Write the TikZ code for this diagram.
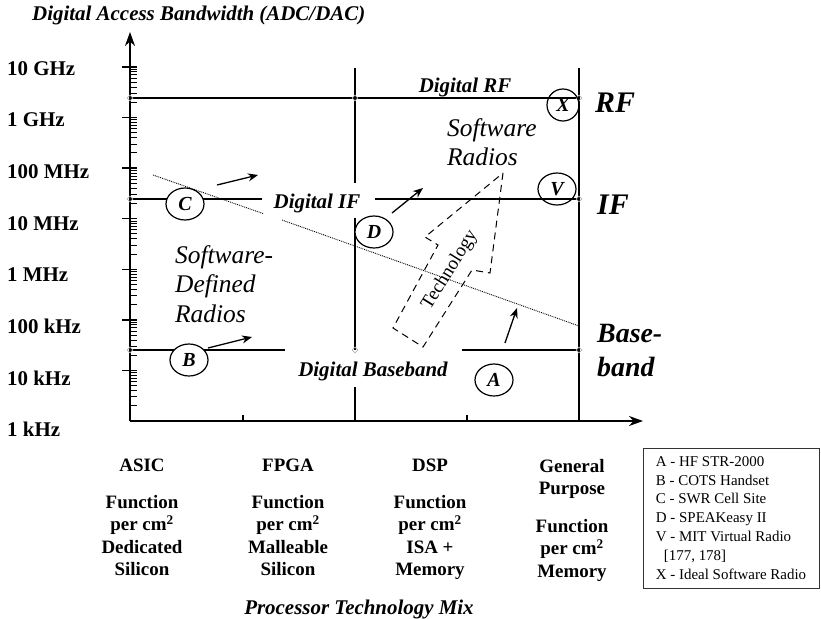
\documentclass[tikz,border=0pt]{standalone}
\usepackage{fontspec}
\setmainfont{Liberation Serif}
\usetikzlibrary{arrows.meta, positioning, shapes.geometric, calc}
\tikzset{
    % Axes
    axisline/.style={line width=2bp, -{Stealth[length=14bp, width=10bp]}},
    majortick/.style={line width=1.4bp},
    minortick/.style={line width=0.9bp},
    ticklbl/.style={anchor=west, inner sep=0, font=\bfseries\fontsize{21}{24}\selectfont},
    axistitle/.style={inner sep=0, font=\bfseries\itshape\fontsize{21}{24}\selectfont},
    % Access regions
    gridline/.style={line width=1.2bp},
    joint/.style={diamond, draw=gray!60, line width=0.6bp, minimum size=6bp, inner sep=0},
    dlbl/.style={anchor=base, inner sep=0, font=\bfseries\itshape\fontsize{21}{24}\selectfont},
    bandlbl/.style={anchor=base west, inner sep=0, font=\bfseries\itshape\fontsize{30}{34}\selectfont},
    regionlbl/.style={anchor=north west, inner sep=0, align=left,
                font=\itshape\fontsize{25.5}{30}\selectfont},
    radio/.style={ellipse, draw, line width=1.2bp, fill=white, minimum width=38bp,
                minimum height=32bp, inner sep=0, font=\bfseries\itshape\fontsize{20}{24}\selectfont},
    trend/.style={-{Stealth[length=10bp, width=8bp]}, line width=1.3bp},
    techarrow/.style={dash pattern=on 7bp off 5bp, line width=1bp},
    % Processor columns
    colhead/.style={anchor=north, inner sep=0, align=center, font=\bfseries\fontsize{19}{22.5}\selectfont},
    coldesc/.style={anchor=north, inner sep=0, align=center, font=\bfseries\fontsize{19}{22.5}\selectfont},
    % Legend
    legendbox/.style={draw=black!80, line width=0.8bp, minimum width=176bp, minimum height=140bp,
                align=left, font=\fontsize{15}{19}\selectfont},
}

\begin{document}
\begin{tikzpicture}[x=1bp, y=-1bp]
\useasboundingbox (0,0) rectangle (821,619);

% axes
\draw[axisline] (130,421) -- (130,32);
\draw[axisline] (130,421) -- (643,421);
\foreach \d in {0,...,6}{
  \foreach \k in {2,...,9}{
    \pgfmathsetmacro\ty{421-50.57*(\d+log10(\k))}
    \draw[minortick] (130,\ty) -- (137,\ty);
  }
}
\foreach \d in {1,...,7}{
  \pgfmathsetmacro\ty{421-50.57*\d}
  \draw[majortick] (122,\ty) -- (137,\ty);
}
\draw[majortick] (243,421) -- (243,415);
\draw[majortick] (467,421) -- (467,415);

\foreach \lbl [count=\i from 0] in {10 GHz, 1 GHz, 100 MHz, 10 MHz, 1 MHz, 100 kHz, 10 kHz, 1 kHz}
  \node[ticklbl] (f\i) at (7,68.5+51.6*\i) {\lbl};

\node[axistitle, anchor=base west] (ytitle) at (32,21) {Digital Access Bandwidth (ADC/DAC)};
\node[axistitle, anchor=base] (xtitle) at (359,614) {Processor Technology Mix};

% region boundaries
\draw[gridline] (130,98) -- (579,98);
\draw[gridline] (130,199) -- (262,199);
\draw[gridline] (375,199) -- (579,199);
\draw[gridline] (130,350) -- (285,350);
\draw[gridline] (462,350) -- (579,350);
\draw[gridline] (355,68) -- (355,183);
\draw[gridline] (355,218) -- (355,350);
\draw[gridline] (355,387) -- (355,421);
\draw[gridline] (579,68) -- (579,421);

\foreach \p [count=\j] in {(130,98), (355,98), (579,98), (130,199), (579,199), (130,350), (355,350), (579,350)}
  \node[joint] (j\j) at \p {};

% technology trend
\draw[densely dotted, line width=0.9bp] (153,175) -- (263,213.5);
\draw[densely dotted, line width=0.9bp] (282,220) -- (579,326);
\draw[techarrow] (503,173) -- (490,273) -- (472,270) -- (423,347) -- (393,328) -- (438,245) -- (425,237) -- cycle;
\node[rotate=58, inner sep=0, font=\fontsize{19}{22}\selectfont] (tech) at (450,270) {Technology};

\draw[trend] (217,185) -- (258,175);
\draw[trend] (392,213) -- (423,188);
\draw[trend] (208,348) -- (252,337);
\draw[trend] (505,343) -- (517,308);

% labels
\node[dlbl] (drf) at (465,93) {Digital RF};
\node[dlbl] (dif) at (317,209) {Digital IF};
\node[dlbl] (dbb) at (373,376) {Digital Baseband};

\node[bandlbl] (rf) at (595,113) {RF};
\node[bandlbl] (if) at (597,215) {IF};
\node[bandlbl, align=left, anchor=north west, font=\bfseries\itshape\fontsize{28}{34}\selectfont] (bb) at (597,324) {Base-\\band};

\node[regionlbl] (swr) at (447,118) {Software\\Radios};
\node[regionlbl] (sdr) at (175,245) {Software-\\Defined\\Radios};

% example radios
\node[radio] (C) at (185,204) {C};
\node[radio] (B) at (189,360) {B};
\node[radio] (D) at (374,232) {D};
\node[radio] (A) at (494,380) {A};
\node[radio, fill=none] (V) at (557,189) {V};
\node[radio, fill=none, minimum width=32bp] (X) at (563,105) {X};

% processor columns
\node[colhead] (asic) at (142,459) {ASIC};
\node[coldesc] (asicd) at (142,495) {Function\\per cm\textsuperscript{2}\\Dedicated\\Silicon};
\node[colhead] (fpga) at (288,459) {FPGA};
\node[coldesc] (fpgad) at (288,495) {Function\\per cm\textsuperscript{2}\\Malleable\\Silicon};
\node[colhead] (dsp) at (430,459) {DSP};
\node[coldesc] (dspd) at (430,495) {Function\\per cm\textsuperscript{2}\\ISA +\\Memory};
\node[colhead] (gpp) at (572,459) {General\\Purpose};
\node[coldesc] (gppd) at (572,519) {Function\\per cm\textsuperscript{2}\\Memory};

% legend
\node[legendbox] (legend) at (731,518) {A - HF STR-2000\\B - COTS Handset\\C - SWR Cell Site\\D - SPEAKeasy II\\V - MIT Virtual Radio\\\hspace*{8bp}[177, 178]\\X - Ideal Software Radio};
\end{tikzpicture}
\end{document}
